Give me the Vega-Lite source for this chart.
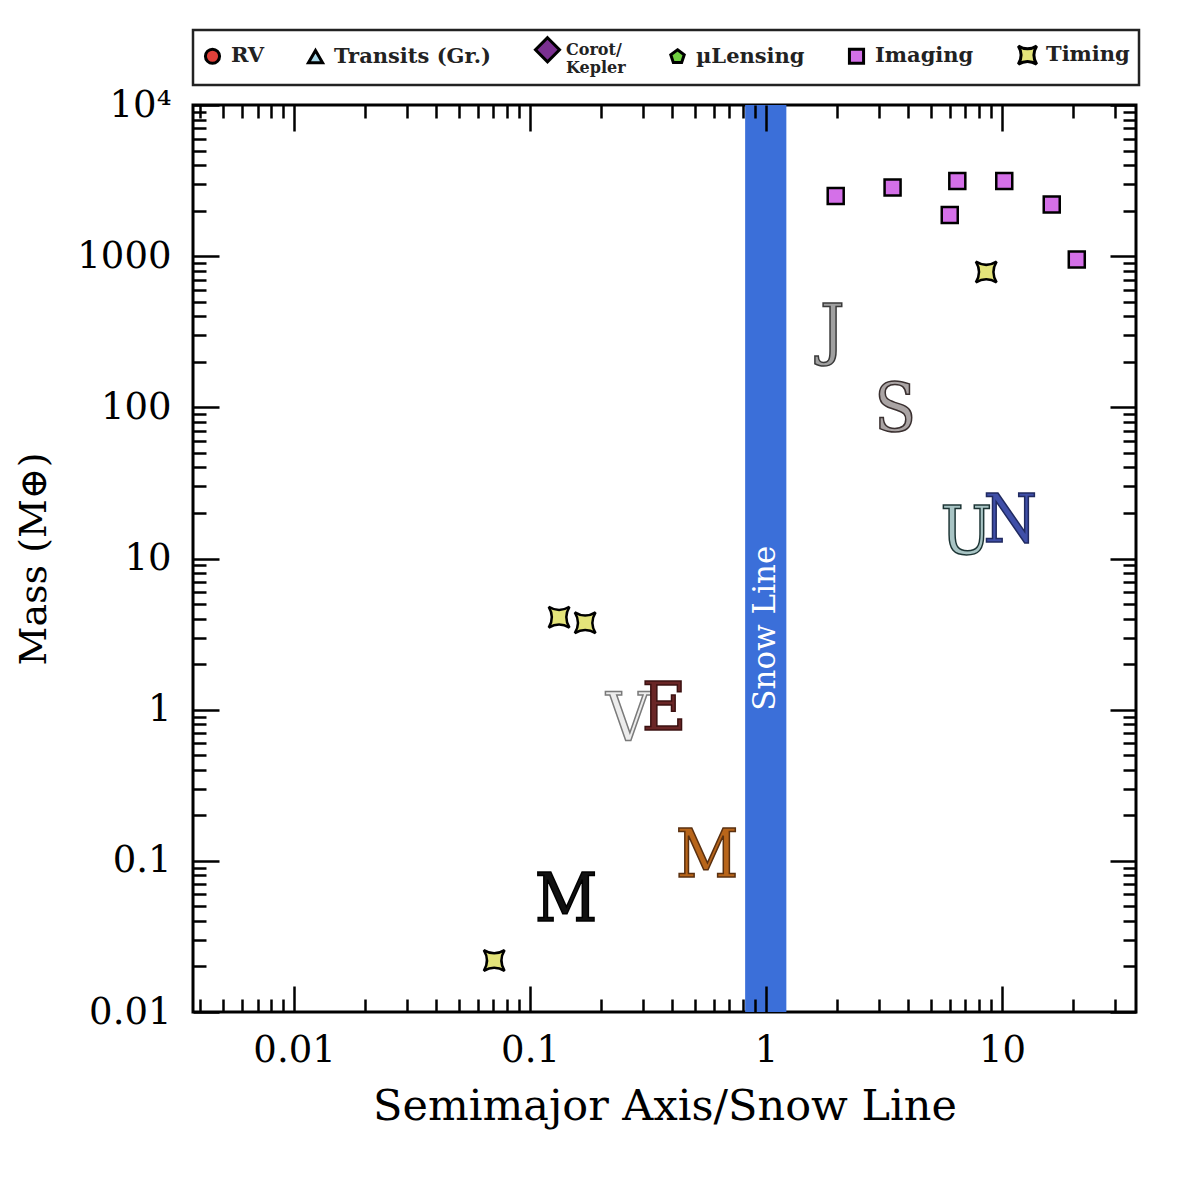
{
  "$schema": "https://vega.github.io/schema/vega-lite/v6.json",
  "width": 943,
  "height": 907,
  "autosize": {"type": "none"},
  "padding": {"left": 193, "top": 105, "right": 46, "bottom": 177},
  "background": "white",
  "config": {"view": {"stroke": "black", "strokeWidth": 3}, "font": "DejaVu Serif"},
  "datasets": {
    "band": [{"lo": 0.816, "hi": 1.22}],
    "snow": [{"a": 1.0, "m": 3.46, "t": "Snow Line"}],
    "planets": [
      {"planet": "Mercury", "letter": "M", "a": 0.1422, "m": 0.054},
      {"planet": "Venus", "letter": "V", "a": 0.2606, "m": 0.838},
      {"planet": "Earth", "letter": "E", "a": 0.37, "m": 0.991},
      {"planet": "Mars", "letter": "M", "a": 0.563, "m": 0.1055},
      {"planet": "Jupiter", "letter": "J", "a": 1.908, "m": 315},
      {"planet": "Saturn", "letter": "S", "a": 3.53, "m": 94.4},
      {"planet": "Uranus", "letter": "U", "a": 7.06, "m": 14.5},
      {"planet": "Neptune", "letter": "N", "a": 10.85, "m": 17.4}
    ],
    "points": [
      {"a": 1.975, "m": 2500, "method": "Imaging"},
      {"a": 3.44, "m": 2847, "method": "Imaging"},
      {"a": 6.47, "m": 3141, "method": "Imaging"},
      {"a": 6.01, "m": 1871, "method": "Imaging"},
      {"a": 10.23, "m": 3141, "method": "Imaging"},
      {"a": 16.26, "m": 2196, "method": "Imaging"},
      {"a": 20.76, "m": 950, "method": "Imaging"},
      {"a": 8.58, "m": 785, "method": "Timing"},
      {"a": 0.1328, "m": 4.09, "method": "Timing"},
      {"a": 0.1713, "m": 3.76, "method": "Timing"},
      {"a": 0.0705, "m": 0.0219, "method": "Timing"}
    ]
  },
  "layer": [
    {
      "data": {"name": "band"},
      "mark": {"type": "rect", "color": "#3b6fd9", "opacity": 1},
      "encoding": {
        "x": {"field": "lo", "type": "quantitative", "scale": {"type": "log", "domain": [0.00373, 37], "nice": false}, "axis": null},
        "x2": {"field": "hi"}
      }
    },
    {
      "data": {"name": "snow"},
      "mark": {"type": "text", "angle": 270, "align": "center", "baseline": "middle", "font": "DejaVu Serif", "fontSize": 31, "color": "white"},
      "encoding": {
        "x": {"field": "a", "type": "quantitative", "scale": {"type": "log", "domain": [0.00373, 37], "nice": false}, "axis": null},
        "y": {"field": "m", "type": "quantitative", "scale": {"type": "log", "domain": [0.01, 10000], "nice": false}, "axis": null},
        "text": {"field": "t"}
      }
    },
    {
      "data": {"name": "planets"},
      "mark": {"type": "text", "align": "center", "baseline": "middle", "font": "DejaVu Serif Condensed, DejaVu Serif", "fontSize": 68, "strokeWidth": 1.5},
      "encoding": {
        "x": {"field": "a", "type": "quantitative", "scale": {"type": "log", "domain": [0.00373, 37], "nice": false},
          "axis": {"orient": "top", "values": [0.004,0.005,0.006,0.007,0.008,0.009,0.01,0.02,0.03,0.04,0.05,0.06,0.07,0.08,0.09,0.1,0.2,0.3,0.4,0.5,0.6,0.7,0.8,0.9,1,2,3,4,5,6,7,8,9,10,20,30],
            "tickSize": {"condition": {"test": "indexof([0.01,0.1,1,10], datum.value) >= 0", "value": -26}, "value": -13},
            "tickWidth": 2.5, "tickColor": "black", "labels": false, "grid": false, "domain": false, "title": null, "zindex": 1}},
        "y": {"field": "m", "type": "quantitative", "scale": {"type": "log", "domain": [0.01, 10000], "nice": false},
          "axis": {"orient": "right", "values": [0.01,0.02,0.03,0.04,0.05,0.06,0.07,0.08,0.09,0.1,0.2,0.3,0.4,0.5,0.6,0.7,0.8,0.9,1,2,3,4,5,6,7,8,9,10,20,30,40,50,60,70,80,90,100,200,300,400,500,600,700,800,900,1000,2000,3000,4000,5000,6000,7000,8000,9000,10000],
            "tickSize": {"condition": {"test": "indexof([0.01,0.1,1,10,100,1000,10000], datum.value) >= 0", "value": -26}, "value": -13},
            "tickWidth": 2.5, "tickColor": "black", "labels": false, "grid": false, "domain": false, "title": null, "zindex": 1}},
        "text": {"field": "letter"},
        "color": {"field": "planet", "type": "nominal", "legend": null,
          "scale": {"domain": ["Mercury","Venus","Earth","Mars","Jupiter","Saturn","Uranus","Neptune"],
                    "range": ["#111111","#ececec","#6a2626","#b8651a","#a0a0a0","#aaa4a4","#a8c4c4","#3f4fa8"]}},
        "stroke": {"field": "planet", "type": "nominal", "legend": null,
          "scale": {"domain": ["Mercury","Venus","Earth","Mars","Jupiter","Saturn","Uranus","Neptune"],
                    "range": ["#000000","#7a7a7a","#3a1010","#5a3010","#3a3a3a","#3a3030","#1c3434","#202a60"]}}
      }
    },
    {
      "data": {"name": "points"},
      "mark": {"type": "point", "filled": true, "stroke": "black", "strokeWidth": 2.5, "size": 256, "opacity": 1},
      "encoding": {
        "x": {"field": "a", "type": "quantitative", "scale": {"type": "log", "domain": [0.00373, 37], "nice": false},
          "axis": {"orient": "bottom", "values": [0.004,0.005,0.006,0.007,0.008,0.009,0.01,0.02,0.03,0.04,0.05,0.06,0.07,0.08,0.09,0.1,0.2,0.3,0.4,0.5,0.6,0.7,0.8,0.9,1,2,3,4,5,6,7,8,9,10,20,30],
            "tickSize": {"condition": {"test": "indexof([0.01,0.1,1,10], datum.value) >= 0", "value": -26}, "value": -13},
            "tickWidth": 2.5, "tickColor": "black", "format": "~g",
            "labelExpr": "indexof([0.01,0.1,1,10], datum.value) >= 0 ? datum.label : ''",
            "labelFont": "DejaVu Serif", "labelFontSize": 37, "labelColor": "black", "labelPadding": 46, "labelOverlap": false, "labelFlush": false,
            "grid": false, "domain": false, "zindex": 1,
            "title": "Semimajor Axis/Snow Line", "titleFont": "DejaVu Serif", "titleFontSize": 43, "titleFontWeight": "normal", "titleColor": "black", "titlePadding": 4}},
        "y": {"field": "m", "type": "quantitative", "scale": {"type": "log", "domain": [0.01, 10000], "nice": false},
          "axis": {"orient": "left", "values": [0.01,0.02,0.03,0.04,0.05,0.06,0.07,0.08,0.09,0.1,0.2,0.3,0.4,0.5,0.6,0.7,0.8,0.9,1,2,3,4,5,6,7,8,9,10,20,30,40,50,60,70,80,90,100,200,300,400,500,600,700,800,900,1000,2000,3000,4000,5000,6000,7000,8000,9000,10000],
            "tickSize": {"condition": {"test": "indexof([0.01,0.1,1,10,100,1000,10000], datum.value) >= 0", "value": -26}, "value": -13},
            "tickWidth": 2.5, "tickColor": "black", "format": "~g",
            "labelExpr": "datum.value == 10000 ? '10⁴' : (indexof([0.01,0.1,1,10,100,1000], datum.value) >= 0 ? datum.label : '')",
            "labelFont": "DejaVu Serif", "labelFontSize": 37, "labelColor": "black", "labelPadding": 48, "labelOverlap": false, "labelFlush": false,
            "grid": false, "domain": false, "zindex": 1,
            "title": "Mass (M⊕)", "titleFont": "DejaVu Serif", "titleFontSize": 38, "titleFontWeight": "normal", "titleColor": "black", "titlePadding": 23}},
        "fill": {"field": "method", "type": "nominal",
          "scale": {"domain": ["RV","Transits (Gr.)","Corot/Kepler","µLensing","Imaging","Timing"],
                    "range": ["#e0403a","#a8d8e8","#7a3090","#70d040","#d470e8","#e4e47a"]},
          "legend": {"title": null, "orient": "top", "direction": "horizontal", "offset": 18, "padding": 9, "fillColor": "white", "strokeColor": "#222222",
            "labelFont": "DejaVu Serif", "labelFontWeight": "bold", "labelFontSize": {"expr": "datum.label == 'Corot/Kepler' ? 16 : 21"}, "labelColor": "#222222", "labelLimit": 300, "labelOffset": 8,
            "columnPadding": 38, "symbolSize": 200, "symbolStrokeColor": "black", "symbolStrokeWidth": 3, "symbolOpacity": 1,
            "labelExpr": "datum.label == 'Corot/Kepler' ? ['Corot/', 'Kepler'] : datum.label",
            "encode": {"symbols": {"update": {"stroke": {"value": "black"}, "strokeWidth": {"value": 3}}}, "legend": {"update": {"strokeWidth": {"value": 2.5}}}}}},
        "shape": {"field": "method", "type": "nominal",
          "scale": {"domain": ["RV","Transits (Gr.)","Corot/Kepler","µLensing","Imaging","Timing"],
                    "range": ["circle","triangle-up","M0,-1.7L1.7,0L0,1.7L-1.7,0Z","M0,-1L0.951,-0.309L0.588,0.809L-0.588,0.809L-0.951,-0.309Z","square","M-1.3,-1.3Q0,-0.5,1.3,-1.3Q0.5,0,1.3,1.3Q0,0.5,-1.3,1.3Q-0.5,0,-1.3,-1.3Z"]},
          "legend": {"title": null, "orient": "top", "direction": "horizontal", "offset": 18, "padding": 9, "fillColor": "white", "strokeColor": "#222222",
            "labelFont": "DejaVu Serif", "labelFontWeight": "bold", "labelFontSize": {"expr": "datum.label == 'Corot/Kepler' ? 16 : 21"}, "labelColor": "#222222", "labelLimit": 300, "labelOffset": 8,
            "columnPadding": 38, "symbolSize": 200, "symbolStrokeColor": "black", "symbolStrokeWidth": 3, "symbolOpacity": 1,
            "labelExpr": "datum.label == 'Corot/Kepler' ? ['Corot/', 'Kepler'] : datum.label",
            "encode": {"symbols": {"update": {"stroke": {"value": "black"}, "strokeWidth": {"value": 3}}}, "legend": {"update": {"strokeWidth": {"value": 2.5}}}}}}
      }
    }
  ],
  "resolve": {"axis": {"x": "independent", "y": "independent"}}
}
